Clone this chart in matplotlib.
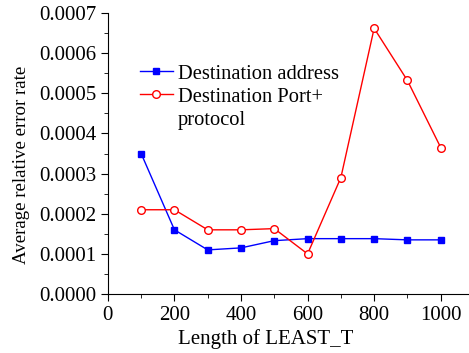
import matplotlib
matplotlib.use("Agg")
import matplotlib.pyplot as plt
from matplotlib.lines import Line2D
from matplotlib.ticker import MultipleLocator, FormatStrFormatter

lengths = [100, 200, 300, 400, 500, 600, 700, 800, 900, 1000]
dest_addr = [0.000350, 0.000160, 0.000110, 0.000115, 0.000133,
             0.000138, 0.000138, 0.000138, 0.000135, 0.000135]
dest_port = [0.000210, 0.000210, 0.000160, 0.000160, 0.000163,
             0.000100, 0.000290, 0.000662, 0.000532, 0.000365]

plt.rcParams['font.family'] = ['Liberation Serif', 'DejaVu Serif']

fig = plt.figure(figsize=(4.69, 3.53), dpi=100)
ax = fig.add_axes([0.230, 0.167, 0.77, 0.796])

ax.plot(lengths, dest_addr, color='#0000ff', lw=1, marker='s', ms=5,
        mfc='#0000ff', mec='#0000ff', label='Destination address')
ax.plot(lengths, dest_port, color='#ff0000', lw=1, marker='o', ms=5.5,
        mfc='white', mec='#ff0000', label='Destination Port+')

ax.set_xlim(0, 1085)
ax.set_ylim(0, 0.0007)
ax.xaxis.set_major_locator(MultipleLocator(200))
ax.xaxis.set_minor_locator(MultipleLocator(100))
ax.yaxis.set_major_locator(MultipleLocator(0.0001))
ax.yaxis.set_minor_locator(MultipleLocator(0.00005))
ax.yaxis.set_major_formatter(FormatStrFormatter('%.4f'))

for side in ('top', 'right'):
    ax.spines[side].set_visible(False)
ax.tick_params(which='major', length=5, labelsize=15, direction='out')
ax.tick_params(which='minor', length=3, direction='out')

ax.set_xlabel('Length of LEAST_T', fontsize=15)
ax.xaxis.set_label_coords(0.437, -0.125)
ax.set_ylabel('Average relative error rate', fontsize=13.6)
ax.yaxis.set_label_coords(-0.215, 0.459)

# second line of the red label sits under the text, handle stays on first line
handles, labels = ax.get_legend_handles_labels()
handles.append(Line2D([], [], color='none'))
labels.append('protocol')
ax.legend(handles, labels, loc='upper left', bbox_to_anchor=(0.089, 0.818),
          frameon=False, fontsize=14.8, handlelength=1.6, handletextpad=0.25,
          labelspacing=0.18, borderaxespad=0, borderpad=0)

fig.savefig('out.png', dpi=100)
